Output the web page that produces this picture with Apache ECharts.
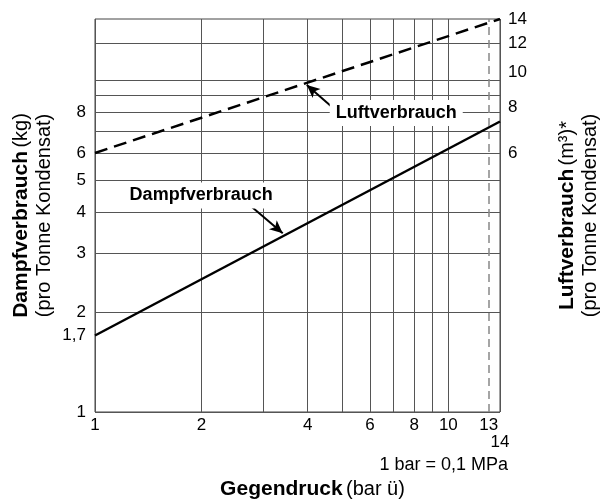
<!DOCTYPE html>
<html><head><meta charset="utf-8">
<script src="https://cdn.jsdelivr.net/npm/echarts@6/dist/echarts.min.js"></script>
<style>html,body{margin:0;padding:0;background:#fff}#c{width:602px;height:504px}</style>
</head><body><div id="c"></div>
<script>
// Data
const pressure = [1, 14];            // Gegendruck (bar ü)
const dampf = [1.7, 7.5];            // Dampfverbrauch (kg / t Kondensat), left axis
const luft = [6, 14];                // Luftverbrauch (m³ / t Kondensat), right axis
const xLabels = [1, 2, 4, 6, 8, 10, 13];
const xLabelsLower = [14];
const xGrid = [1, 2, 3, 4, 5, 6, 7, 8, 9, 10, 14];
const yLeftLabels = [1, 1.7, 2, 3, 4, 5, 6, 8];
const yLeftGrid = [1, 2, 3, 4, 5, 6, 7, 8, 9, 10];
const yRightLabels = [6, 8, 10, 12, 14];
const yRightGrid = [12];
const markerPressure = 13;

const FONT = 'Liberation Sans, Arial, Helvetica, sans-serif';
const GRIDC = '#555';
const fmt = v => String(Math.round(v * 10) / 10).replace('.', ',');
const richName = {
  b: {fontSize: 21, fontWeight: 'bold', fontFamily: FONT, color: '#000', lineHeight: 23},
  n: {fontSize: 20, fontFamily: FONT, color: '#000', lineHeight: 23}
};

const chart = echarts.init(document.getElementById('c'), null, {renderer: 'canvas'});
chart.setOption({
  animation: false,
  backgroundColor: '#fff',
  textStyle: {fontFamily: FONT, color: '#000'},
  grid: {left: 95, right: 102, top: 19, bottom: 92, containLabel: false, outerBoundsMode: 'none',
    show: true, borderColor: '#444', borderWidth: 1, backgroundColor: 'transparent'},
  xAxis: [{
    type: 'log', logBase: 10, min: 1, max: 14,
    axisLine: {show: false},
    axisTick: {show: false, customValues: xGrid},
    splitLine: {show: true, lineStyle: {color: GRIDC, width: 1}},
    axisLabel: {customValues: xLabels, fontSize: 17, color: '#000', margin: 5,
      hideOverlap: false, showMinLabel: true, showMaxLabel: true, formatter: fmt},
    name: '{b|Gegendruck} {n|(bar ü)}',
    nameLocation: 'middle', nameGap: 66,
    nameTextStyle: {padding: [0, 0, 0, 30], rich: richName}
  }, {
    type: 'log', logBase: 10, min: 1, max: 14, position: 'bottom',
    axisLine: {show: false}, axisTick: {show: false}, splitLine: {show: false},
    axisLabel: {customValues: xLabelsLower, fontSize: 17, color: '#000', margin: 22,
      hideOverlap: false, showMaxLabel: true, formatter: fmt}
  }],
  yAxis: [{
    type: 'log', logBase: 10, min: 1, max: 15.27,
    axisLine: {show: false},
    axisTick: {show: false, customValues: yLeftGrid},
    splitLine: {show: true, lineStyle: {color: GRIDC, width: 1}},
    axisLabel: {customValues: yLeftLabels, fontSize: 17, color: '#000', margin: 9,
      hideOverlap: false, showMinLabel: true, formatter: fmt},
    name: '{b|Dampfverbrauch} {n|(kg)}\n{n|(pro Tonne Kondensat)}',
    nameLocation: 'middle', nameRotate: 90, nameGap: 39, nameMoveOverlap: false,
    nameTextStyle: {lineHeight: 23, rich: richName}
  }, {
    type: 'log', logBase: 10, min: 1.1653, max: 14, position: 'right',
    axisLine: {show: false},
    axisTick: {show: false, customValues: yRightGrid},
    splitLine: {show: true, lineStyle: {color: GRIDC, width: 1}},
    axisLabel: {customValues: yRightLabels, fontSize: 17, color: '#000', margin: 8,
      hideOverlap: false, showMaxLabel: true, formatter: fmt},
    name: '{b|Luftverbrauch} {n|(m³)*}\n{n|(pro Tonne Kondensat)}',
    nameLocation: 'middle', nameRotate: 90, nameGap: 56,
    nameTextStyle: {lineHeight: 23, rich: richName}
  }],
  series: [{
    name: 'Dampfverbrauch', type: 'line', xAxisIndex: 0, yAxisIndex: 0,
    data: pressure.map((p, i) => [p, dampf[i]]),
    symbol: 'none', silent: true,
    lineStyle: {color: '#000', width: 2.5},
    markLine: {
      silent: true, symbol: ['none', 'arrow'], symbolSize: [9, 13],
      label: {show: false},
      lineStyle: {color: '#000', width: 2, type: 'solid'},
      data: [
        [{coord: [2.785, 4.14]}, {coord: [3.398, 3.456]}],
        [{coord: [4.72, 8.24]}, {coord: [3.975, 9.66]}]
      ]
    },
    markPoint: {
      silent: true, symbol: 'circle', symbolSize: 0,
      label: {show: true, position: 'inside', fontSize: 18, fontWeight: 'bold', fontFamily: FONT,
        color: '#000', backgroundColor: '#fff', padding: [4, 6]},
      data: [
        {coord: [7.12, 7.96], value: 'Luftverbrauch', label: {formatter: 'Luftverbrauch'}},
        {coord: [1.997, 4.49], value: 'Dampfverbrauch', label: {formatter: 'Dampfverbrauch'}}
      ]
    }
  }, {
    name: 'Luftverbrauch', type: 'line', xAxisIndex: 0, yAxisIndex: 1,
    data: pressure.map((p, i) => [p, luft[i]]),
    symbol: 'none', silent: true,
    lineStyle: {color: '#000', width: 2.5, type: [13, 7]},
    markLine: {
      silent: true, symbol: ['none', 'none'], label: {show: false},
      lineStyle: {color: '#888', width: 1.5, type: [8, 5]},
      data: [{xAxis: markerPressure}]
    }
  }],
  graphic: [{
    type: 'text', right: 94, top: 456,
    style: {text: '1 bar = 0,1 MPa', fontSize: 18, fontFamily: FONT, fill: '#000'}
  }]
});
</script></body></html>
